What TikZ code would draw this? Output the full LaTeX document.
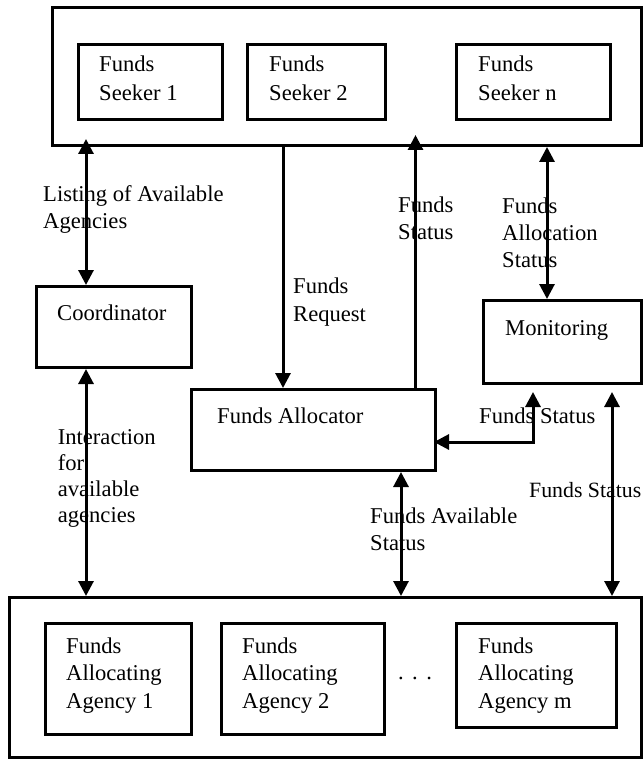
\documentclass[tikz,border=0pt]{standalone}
\usepackage{fontspec}
\setmainfont{Liberation Serif}
\usetikzlibrary{arrows.meta}
\begin{document}
\begin{tikzpicture}[x=1pt,y=-1pt,
  box/.style={draw,line width=3pt,inner sep=0pt,anchor=north west},
  txt/.style={inner sep=0pt,anchor=base west,align=left,font=\fontsize{22.6}{#1}\selectfont},
  txt/.default=27,
  conn/.style={line width=3pt},
  fwd/.style={conn,-{Triangle[length=15pt,width=15pt]}},
  dbl/.style={conn,{Triangle[length=15pt,width=15pt]}-{Triangle[length=15pt,width=15pt]}}
]
\useasboundingbox (0,0) rectangle (642,759);

% boxes
\node[box,minimum width=589pt,minimum height=138pt] (top) at (51,6) {};
\node[box,minimum width=144pt,minimum height=75pt] (s1) at (77,43) {};
\node[box,minimum width=138pt,minimum height=75pt] (s2) at (246,43) {};
\node[box,minimum width=154pt,minimum height=75pt] (sn) at (455,43) {};
\node[box,minimum width=155pt,minimum height=81pt] (coord) at (35,285) {};
\node[box,minimum width=158pt,minimum height=83pt] (mon) at (482,299) {};
\node[box,minimum width=244pt,minimum height=81pt] (alloc) at (190,388) {};
\node[box,minimum width=632pt,minimum height=160pt] (bottom) at (8,596) {};
\node[box,minimum width=146pt,minimum height=111pt] (a1) at (44,622) {};
\node[box,minimum width=163pt,minimum height=111pt] (a2) at (220,622) {};
\node[box,minimum width=160pt,minimum height=104pt] (am) at (455,622) {};

% texts in boxes (anchor = baseline of last line)
\node[txt=29] (s1t) at (99,101) {Funds\\Seeker 1};
\node[txt=29] (s2t) at (269,101) {Funds\\Seeker 2};
\node[txt=29] (snt) at (478,101) {Funds\\Seeker n};
\node[txt] (coordt) at (57,320) {Coordinator};
\node[txt] (mont) at (505,335) {Monitoring};
\node[txt] (alloct) at (217,423) {Funds Allocator};
\node[txt=27.5] (a1t) at (66,708) {Funds\\Allocating\\Agency 1};
\node[txt=27.5] (a2t) at (242,708) {Funds\\Allocating\\Agency 2};
\node[txt=27.5] (amt) at (478,708) {Funds\\Allocating\\Agency m};
\node[inner sep=0pt,anchor=base,font=\fontsize{22.6}{27}\selectfont] (dots) at (415,679) {.\hspace{8.5pt}.\hspace{8.5pt}.};

% arrow positions
\coordinate (xL) at (86,0);
\coordinate (xR) at (283,0);
\coordinate (xS) at (415.5,0);
\coordinate (xA) at (547,0);
\coordinate (xM) at (533,0);
\coordinate (xF) at (401,0);
\coordinate (xE) at (612,0);
\coordinate (yM) at (0,442);

% connectors
\draw[dbl,shorten <=-8pt] (top.south -| xL) -- (coord.north -| xL);
\draw[fwd] (top.south -| xR) -- (alloc.north -| xR);
\draw[fwd,shorten >=-12pt] (alloc.north -| xS) -- (top.south -| xS);
\draw[dbl] (top.south -| xA) -- (mon.north -| xA);
\draw[dbl] (coord.south -| xL) -- (bottom.north -| xL);
\draw[dbl,shorten <=-3pt,shorten >=7pt] (alloc.east |- yM) -| (mon.south -| xM);
\draw[dbl,shorten <=7pt] (mon.south -| xE) -- (bottom.north -| xE);
\draw[dbl] (alloc.south -| xF) -- (bottom.north -| xF);

% connector labels (anchor = baseline of last line)
\node[txt=26] (l1) at (43,228) {Listing of Available\\Agencies};
\node[txt=28] (l2) at (293,321) {Funds\\Request};
\node[txt=26] (l3) at (398,239) {Funds\\Status};
\node[txt=27] (l4) at (502,267) {Funds\\Allocation\\Status};
\node[txt] (l5) at (479,423) {Funds Status};
\node[txt=25.7] (l6) at (57.6,522) {Interaction\\for\\available\\agencies};
\node[txt,font=\fontsize{21.8}{27}\selectfont] (l7) at (529,497) {Funds Status};
\node[txt=27] (l8) at (370,550) {Funds Available\\Status};
\end{tikzpicture}
\end{document}
